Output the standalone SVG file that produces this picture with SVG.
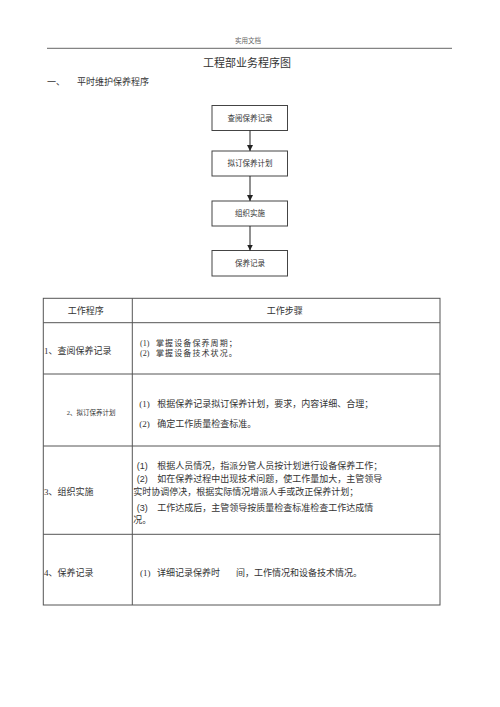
<svg xmlns="http://www.w3.org/2000/svg" width="500" height="707" viewBox="0 0 500 707">
<defs>
<marker id="ah" viewBox="0 0 10 10" refX="10" refY="5" markerWidth="6" markerHeight="6" markerUnits="userSpaceOnUse" orient="auto">
<path d="M0,0 L10,5 L0,10 z" fill="#222"/>
</marker>
</defs>
<style>
text{font-family:"Liberation Serif","Noto Sans CJK SC",serif;fill:#333}
.box{fill:#fff;stroke:#444;stroke-width:1}
.fl{font-size:7.5px;text-anchor:middle}
.cell{fill:none;stroke:#555;stroke-width:1}
.t9{font-size:9px}
.r1{font-size:8px}
.r1 tspan{letter-spacing:1.1px}
.conn{stroke:#222;stroke-width:1;fill:none}
.c{text-anchor:middle}
.sn{font-family:"Liberation Sans",sans-serif}
</style>
<rect width="500" height="707" fill="#fff"/>
<g id="header">
<text x="248" y="42.5" class="c" style="font-size:6.5px;fill:#666">实用文档</text>
<line x1="47" y1="48.3" x2="452" y2="48.3" stroke="#666" stroke-width="1"/>
<text x="247" y="66.5" class="c" style="font-size:11px">工程部业务程序图</text>
<text x="47" y="85" class="t9">一、</text>
<text x="77" y="85" class="t9">平时维护保养程序</text>
</g>
<g id="node1"><rect class="box" x="212" y="105.5" width="75.5" height="25"/><text class="fl" x="250" y="120.5">查阅保养记录</text></g>
<g id="node2"><rect class="box" x="212" y="151" width="75.5" height="25"/><text class="fl" x="250" y="166">拟订保养计划</text></g>
<g id="node3"><rect class="box" x="212" y="201" width="75.5" height="25"/><text class="fl" x="250" y="216">组织实施</text></g>
<g id="node4"><rect class="box" x="212" y="250.5" width="75.5" height="25.5"/><text class="fl" x="250" y="265.5">保养记录</text></g>
<g id="connectors">
<line class="conn" x1="250" y1="130.5" x2="250" y2="151" marker-end="url(#ah)"/>
<line class="conn" x1="250" y1="176" x2="250" y2="201" marker-end="url(#ah)"/>
<line class="conn" x1="250" y1="226" x2="250" y2="250.5" marker-end="url(#ah)"/>
</g>
<g id="table">
<rect class="cell" x="43.3" y="298.3" width="396.7" height="306.7"/>
<line class="cell" x1="132.3" y1="298.3" x2="132.3" y2="605"/>
<line class="cell" x1="43.3" y1="322.7" x2="440" y2="322.7"/>
<line class="cell" x1="43.3" y1="374" x2="440" y2="374"/>
<line class="cell" x1="43.3" y1="446" x2="440" y2="446"/>
<line class="cell" x1="43.3" y1="534.3" x2="440" y2="534.3"/>
<text x="85.7" y="314" class="t9 c">工作程序</text>
<text x="284.7" y="314" class="t9 c">工作步骤</text>
<text x="44" y="354.3" class="t9">1、查阅保养记录</text>
<text x="140" y="346.4" class="r1">(1)<tspan x="156">掌握设备保养周期；</tspan></text>
<text x="140" y="355.8" class="r1">(2)<tspan x="156">掌握设备技术状况。</tspan></text>
<text x="66.7" y="414.5" style="font-size:6.5px">2、拟订保养计划</text>
<text x="139.3" y="407" class="t9">(1)<tspan x="157.3">根据保养记录拟订保养计划，要求，内容详细、合理；</tspan></text>
<text x="139.3" y="427" class="t9">(2)<tspan x="157.3">确定工作质量检查标准。</tspan></text>
<text x="44" y="495" class="t9">3、组织实施</text>
<text x="136.7" y="469.2" class="t9"><tspan class="sn">(1)</tspan><tspan x="157.3">根据人员情况，指派分管人员按计划进行设备保养工作；</tspan></text>
<text x="136.7" y="481.5" class="t9"><tspan class="sn">(2)</tspan><tspan x="157.3">如在保养过程中出现技术问题，使工作量加大，主管领导</tspan></text>
<text x="133.3" y="494.9" class="t9">实时协调停决，根据实际情况增派人手或改正保养计划；</text>
<text x="136.7" y="510.5" class="t9"><tspan class="sn">(3)</tspan><tspan x="157.3">工作达成后，主管领导按质量检查标准检查工作达成情</tspan></text>
<text x="133.3" y="523.2" class="t9">况。</text>
<text x="44" y="576" class="t9">4、保养记录</text>
<text x="140" y="576" class="t9">(1)<tspan x="157">详细记录保养时</tspan><tspan x="236">间，工作情况和设备技术情况。</tspan></text>
</g>
</svg>
